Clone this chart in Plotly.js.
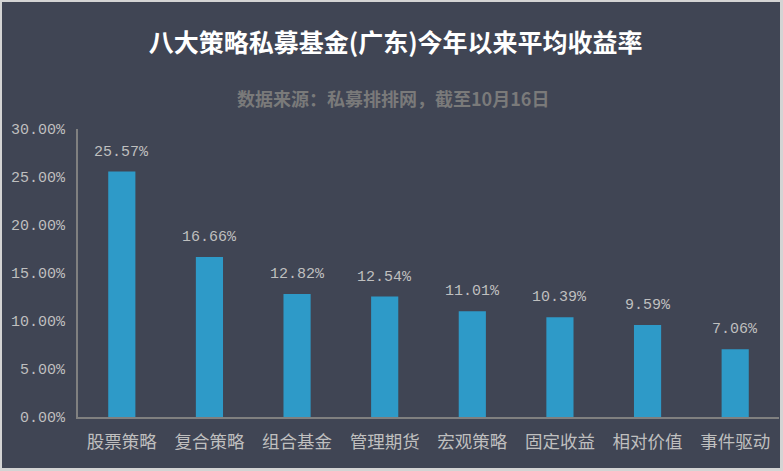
<!DOCTYPE html>
<html>
<head>
<meta charset="utf-8">
<script src="https://cdn.plot.ly/plotly-3.0.1.min.js"></script>
<style>
html,body{margin:0;padding:0;background:#d4d4d4;}
#chart{position:absolute;left:2px;top:2px;width:778px;height:466px;}
</style>
</head>
<body>
<div id="chart"></div>
<script>
const categories = ['股票策略','复合策略','组合基金','管理期货','宏观策略','固定收益','相对价值','事件驱动'];
const values = [25.57, 16.66, 12.82, 12.54, 11.01, 10.39, 9.59, 7.06];
const labels = ['25.57%','16.66%','12.82%','12.54%','11.01%','10.39%','9.59%','7.06%'];
const titleText = '八大策略私募基金(广东)今年以来平均收益率';
const subtitleText = '数据来源：私募排排网，截至10月16日';

const numFont = '"Liberation Mono", "Noto Sans CJK SC", monospace';
const cjkFont = '"Noto Sans CJK SC", sans-serif';

const trace = {
  type: 'bar',
  x: categories,
  y: values,
  cliponaxis: false,
  marker: {color: '#2e9ac8'},
  width: 0.31,
  hoverinfo: 'none'
};

const valueLabels = categories.map((c, i) => ({
  x: c, y: values[i], xref: 'x', yref: 'y',
  text: labels[i], showarrow: false,
  xanchor: 'center', yanchor: 'bottom', yshift: 9,
  font: {family: numFont, size: 15, color: '#bfbfbf'}
}));

const layout = {
  width: 778, height: 466,
  paper_bgcolor: '#404554',
  plot_bgcolor: '#404554',
  margin: {l: 76, r: 1, t: 127, b: 51},
  showlegend: false,
  title: {
    text: '<b>' + titleText + '</b>',
    x: 0.506, xref: 'container', xanchor: 'center',
    y: 1 - 41/466, yref: 'container', yanchor: 'middle',
    font: {family: cjkFont, size: 25, color: '#ffffff'}
  },
  annotations: [{
    text: '<b>' + subtitleText + '</b>',
    xref: 'paper', yref: 'paper',
    x: (391-76)/701, y: 1 + (127-96)/288,
    xanchor: 'center', yanchor: 'middle',
    showarrow: false,
    font: {family: cjkFont, size: 18, color: '#7a7a7a'}
  }].concat(valueLabels),
  xaxis: {
    type: 'category',
    showline: true, linecolor: '#808080', linewidth: 2,
    ticks: '', showgrid: false, zeroline: false,
    tickfont: {family: cjkFont, size: 17.5, color: '#bfbfbf'},
    ticklabelstandoff: 8,
    automargin: false
  },
  yaxis: {
    range: [0, 30], dtick: 5, tick0: 0,
    tickformat: '.2f', ticksuffix: '%',
    showline: true, linecolor: '#808080', linewidth: 2,
    ticks: '', showgrid: false, zeroline: false,
    tickfont: {family: numFont, size: 15, color: '#bfbfbf'},
    ticklabelstandoff: 8,
    automargin: false
  },
  bargap: 0.69
};

Plotly.newPlot('chart', [trace], layout, {displayModeBar: false, staticPlot: true});
</script>
</body>
</html>
